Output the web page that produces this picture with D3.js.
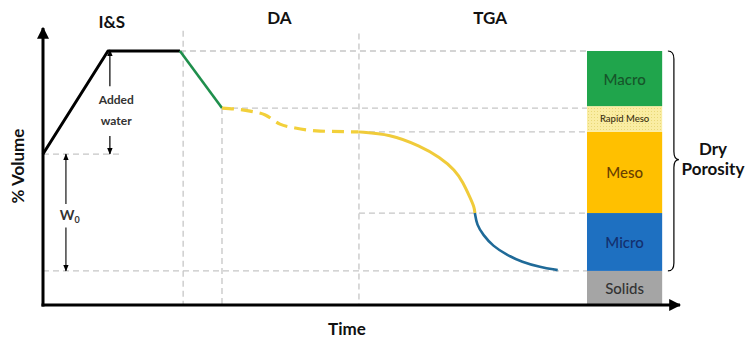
<!DOCTYPE html>
<html><head><meta charset="utf-8">
<script src="https://cdn.jsdelivr.net/npm/d3@7"></script>
<style>body{margin:0;background:#fff}svg{display:block}text{font-family:Lato,"Open Sans",sans-serif}</style>
</head><body>
<script>
// ---- data (time units 0-100, % volume units 0-100) ----
const isLine = [[0,54.5],[10.2,91.7],[21.5,91.7]];
const daLine = [[21.5,91.7],[28.1,71.1]];
const rapidMesoDash = [[28.1,71.1],[32.5,70.0],[34.9,68.6],[37.2,65.3],[39.6,63.9],[43.5,62.8],[49.5,62.5]];
const mesoCurve = [[49.5,62.5],[54.5,61.7],[59.2,57.4],[62.3,53.4],[64.7,48.7],[65.9,44.4],[67.0,39.0],[67.7,35.4],[67.8,33.2]];
const microCurve = [[67.8,33.2],[68.1,28.9],[69.1,25.3],[70.6,21.3],[72.8,18.1],[75.2,15.5],[78.0,13.7],[80.8,12.6]];
const stageNames = ["I&S","DA","TGA"];
const stageX = [10.8,37.1,70.2];
const phaseBounds = [22.0,28.1,49.6];          // vertical dashed lines
const phaseTop = [99,71.1,98];
const levelY = [91.7,71.1,62.5,33.2,12.3];     // horizontal dashed guides
const levelStart = [21.5,28.1,49.6,49.6,0];
const barNames = ["Solids","Micro","Meso","Rapid Meso","Macro"];
const barLow  = [0,12.3,33.2,62.5,71.8];
const barHigh = [12.3,33.2,62.5,71.8,91.7];
const barFill = ["#a5a5a5","#1e70c1","#ffc000","#faeda3","#20a54c"];
const barText = ["#333333","#132f6e","#6a4000","#3a3010","#16552a"];
const barX = [85.4,97.2];
const w0 = [54.5,12.3];
const addedWater = [91.7,54.5];

(function(){
const W=752,H=338;
const svg=d3.select("body").append("svg").attr("width",W).attr("height",H);
const x=d3.scaleLinear().domain([0,100]).range([43,680]);
const y=d3.scaleLinear().domain([0,100]).range([305,28]);
const defs=svg.append("defs");
defs.append("marker").attr("id","ah").attr("viewBox","0 0 10 10").attr("refX",9).attr("refY",5)
  .attr("markerWidth",6).attr("markerHeight",6).attr("orient","auto")
  .append("path").attr("d","M0,1L10,5L0,9z").attr("fill","#000");
defs.append("marker").attr("id","big").attr("viewBox","0 0 10 10").attr("refX",9).attr("refY",5)
  .attr("markerWidth",4).attr("markerHeight",4).attr("orient","auto")
  .append("path").attr("d","M0,0L10,5L0,10z").attr("fill","#000");
const pat=defs.append("pattern").attr("id","dots").attr("width",3).attr("height",3).attr("patternUnits","userSpaceOnUse");
pat.append("rect").attr("width",3).attr("height",3).attr("fill","#faeda3");
pat.append("rect").attr("width",1).attr("height",1).attr("fill","#e9d878");

const grid="#c6c6c6";
phaseBounds.forEach((b,i)=>svg.append("line").attr("x1",x(b)).attr("x2",x(b)).attr("y1",y(phaseTop[i])).attr("y2",y(0))
  .attr("stroke",grid).attr("stroke-width",1.3).attr("stroke-dasharray","6,4"));
levelY.forEach((v,i)=>svg.append("line").attr("x1",x(levelStart[i])).attr("x2",x(barX[0])).attr("y1",y(v)).attr("y2",y(v))
  .attr("stroke",grid).attr("stroke-width",1.3).attr("stroke-dasharray","6,4"));
svg.append("line").attr("x1",x(0)).attr("x2",x(12.1)).attr("y1",y(54.5)).attr("y2",y(54.5))
  .attr("stroke",grid).attr("stroke-width",1.3).attr("stroke-dasharray","6,4");

barNames.forEach((n,i)=>{
  svg.append("rect").attr("x",x(barX[0])).attr("width",x(barX[1])-x(barX[0]))
    .attr("y",y(barHigh[i])).attr("height",y(barLow[i])-y(barHigh[i]))
    .attr("fill",i===3?"url(#dots)":barFill[i]);
  svg.append("text").attr("x",(x(barX[0])+x(barX[1]))/2).attr("y",(y(barLow[i])+y(barHigh[i]))/2)
    .attr("text-anchor","middle").attr("dominant-baseline","central").attr("font-weight",500)
    .attr("font-size",i===3?9.5:15).attr("fill",barText[i]).text(n);
});

const line=d3.line().x(d=>x(d[0])).y(d=>y(d[1]));
const smooth=d3.line().x(d=>x(d[0])).y(d=>y(d[1])).curve(d3.curveBasis);
svg.append("path").attr("d",line(isLine)).attr("fill","none").attr("stroke","#000").attr("stroke-width",3).attr("stroke-linejoin","round");
svg.append("path").attr("d",line(daLine)).attr("fill","none").attr("stroke","#1f8f4c").attr("stroke-width",2.6);
svg.append("path").attr("d",d3.line().x(d=>x(d[0])).y(d=>y(d[1])).curve(d3.curveMonotoneX)(rapidMesoDash)).attr("fill","none").attr("stroke","#f2d03a").attr("stroke-width",3.2).attr("stroke-dasharray","12,7");
svg.append("path").attr("d",smooth(mesoCurve)).attr("fill","none").attr("stroke","#f0cb3a").attr("stroke-width",3);
svg.append("path").attr("d",smooth(microCurve)).attr("fill","none").attr("stroke","#1f6a98").attr("stroke-width",2.6);

svg.append("line").attr("x1",x(0)).attr("x2",x(0)).attr("y1",y(0)+1.5).attr("y2",y(100)).attr("stroke","#000").attr("stroke-width",3).attr("marker-end","url(#big)");
svg.append("line").attr("x1",x(0)-1.5).attr("x2",x(100)).attr("y1",y(0)).attr("y2",y(0)).attr("stroke","#000").attr("stroke-width",3).attr("marker-end","url(#big)");

svg.append("line").attr("x1",x(10.5)).attr("x2",x(10.5)).attr("y1",y(79)).attr("y2",y(addedWater[0])-1).attr("stroke","#000").attr("stroke-width",1.2).attr("marker-end","url(#ah)");
svg.append("line").attr("x1",x(10.5)).attr("x2",x(10.5)).attr("y1",y(61)).attr("y2",y(addedWater[1])).attr("stroke","#000").attr("stroke-width",1.2).attr("marker-end","url(#ah)");
svg.append("text").attr("x",x(11.5)).attr("y",y(72.5)).attr("text-anchor","middle").attr("font-size",12).attr("font-weight","bold").attr("fill","#333").text("Added");
svg.append("text").attr("x",x(11.5)).attr("y",y(65)).attr("text-anchor","middle").attr("font-size",12).attr("font-weight","bold").attr("fill","#333").text("water");
svg.append("line").attr("x1",x(3.6)).attr("x2",x(3.6)).attr("y1",y(36.5)).attr("y2",y(w0[0])).attr("stroke","#000").attr("stroke-width",1.1).attr("marker-end","url(#ah)");
svg.append("line").attr("x1",x(3.6)).attr("x2",x(3.6)).attr("y1",y(28)).attr("y2",y(w0[1])).attr("stroke","#000").attr("stroke-width",1.1).attr("marker-end","url(#ah)");
const wt=svg.append("text").attr("x",x(4.2)).attr("y",y(30.6)).attr("text-anchor","middle").attr("font-size",14).attr("font-weight","bold").attr("fill","#333");
wt.append("tspan").text("W");
wt.append("tspan").attr("font-size",9).attr("dy",3).text("0");

stageNames.forEach((s,i)=>svg.append("text").attr("x",x(stageX[i])).attr("y",i===0?28:24).attr("text-anchor","middle")
  .attr("font-size",17).attr("font-weight","bold").attr("fill","#111").text(s));
svg.append("text").attr("x",347).attr("y",335).attr("text-anchor","middle").attr("font-size",17).attr("font-weight","bold").attr("fill","#111").text("Time");
svg.append("text").attr("transform","translate(24,166) rotate(-90)").attr("text-anchor","middle").attr("font-size",17).attr("font-weight","bold").attr("fill","#111").text("% Volume");

const bx=x(98.1), bTop=y(barHigh[4]), bBot=y(12.3), mid=y(52.5);
svg.append("path").attr("d",`M${bx},${bTop} Q${bx+6},${bTop} ${bx+6},${bTop+8} L${bx+6},${mid-8} Q${bx+6},${mid} ${bx+11},${mid} Q${bx+6},${mid} ${bx+6},${mid+8} L${bx+6},${bBot-8} Q${bx+6},${bBot} ${bx},${bBot}`)
  .attr("fill","none").attr("stroke","#000").attr("stroke-width",1.2);
svg.append("text").attr("x",713).attr("y",155).attr("text-anchor","middle").attr("font-size",17).attr("font-weight","bold").attr("fill","#111").text("Dry");
svg.append("text").attr("x",713).attr("y",175).attr("text-anchor","middle").attr("font-size",17).attr("font-weight","bold").attr("fill","#111").text("Porosity");
})();
</script>
</body></html>
